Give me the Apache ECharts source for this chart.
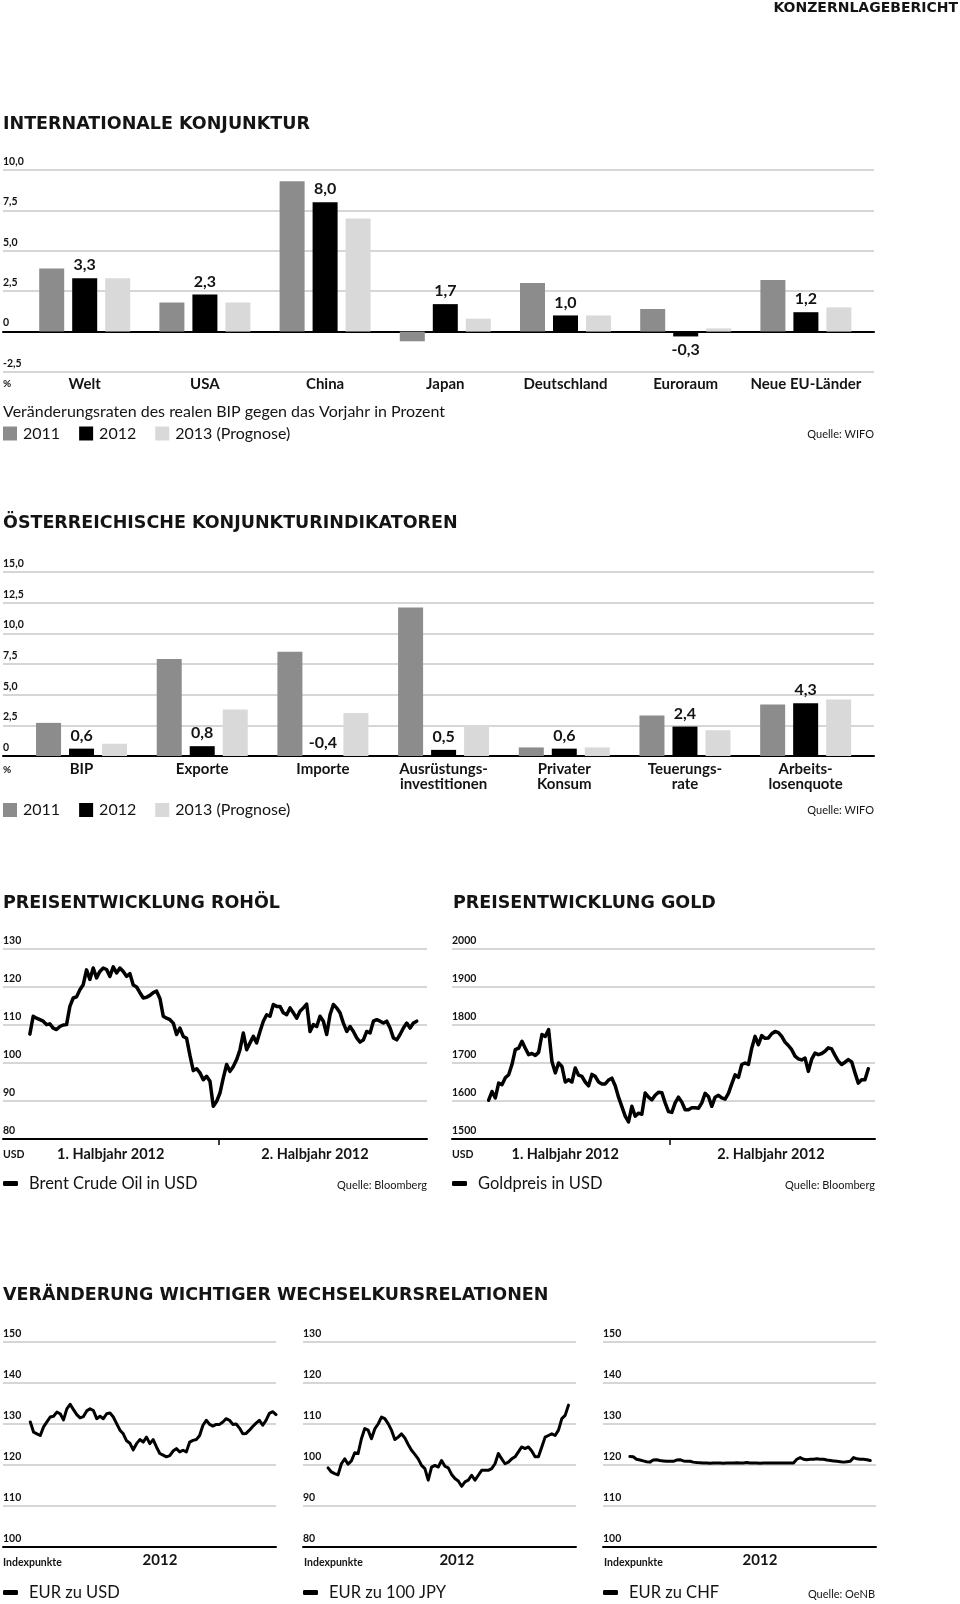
<!DOCTYPE html>
<html><head><meta charset="utf-8">
<script src="https://cdn.jsdelivr.net/npm/echarts@6/dist/echarts.min.js"></script>
<style>html,body{margin:0;padding:0;background:#fff}#c{width:960px;height:1604px}</style>
</head><body><div id="c"></div><script>
// ---------- DATA ----------
const seriesNames = ['2011', '2012', '2013 (Prognose)'];
const intlCategories = ['Welt', 'USA', 'China', 'Japan', 'Deutschland', 'Euroraum', 'Neue EU-Länder'];
const intl2011 = [3.9, 1.8, 9.3, -0.6, 3.0, 1.4, 3.2];
const intl2012 = [3.3, 2.3, 8.0, 1.7, 1.0, -0.3, 1.2];
const intl2013 = [3.3, 1.8, 7.0, 0.8, 1.0, 0.2, 1.5];

const atCategories = ['BIP', 'Exporte', 'Importe', 'Ausrüstungs-\ninvestitionen', 'Privater\nKonsum', 'Teuerungs-\nrate', 'Arbeits-\nlosenquote'];
const at2011 = [2.7, 7.9, 8.5, 12.1, 0.7, 3.3, 4.2];
const at2012 = [0.6, 0.8, -0.4, 0.5, 0.6, 2.4, 4.3];
const at2013 = [1.0, 3.8, 3.5, 2.5, 0.7, 2.1, 4.6];

const halfLabels = ['1. Halbjahr 2012', '2. Halbjahr 2012'];
const yearLabel = '2012';

// Brent, sampled evenly through 2012 (months from Jan 1)
const oilSpan = [0.76, 11.71];
const oilValues = [107.6,112.3,111.8,111.4,111,110.1,110.3,109.2,108.8,109.6,
 110,110.1,114.9,117.1,117.4,119.3,120.6,124.5,122,125,
 122.4,124.1,125,124.6,122.8,125.3,123.7,125,124.1,122.8,
 123.5,120.5,120,118.5,117.1,117.3,117.8,118.5,118.9,117,
 112.3,111.8,111.4,110.5,107.5,109.2,107,106.5,102,98,
 98.5,97.4,95.6,96.5,95.2,88.6,89.9,92.1,96.1,99.6,
 97.8,99.1,100.9,103.5,107.9,103.5,105.3,107,105.3,108.3,
 111,112.7,112.3,115.4,114.9,114.9,113.2,112.7,114.5,113.2,
 111.8,113.6,114.5,115.5,108.3,110.1,109.6,112.3,111,107.5,
 112.7,115.4,114.5,113.2,110.5,108.3,109.6,108.3,106.6,105.5,
 106.1,108.3,107.9,111,111.4,111,110.5,111,109.2,106.6,
 106.1,107.5,109.2,110.5,109.2,110.5,111];

const goldSpan = [1.04, 11.81];
const goldValues = [1602,1625,1608,1647,1643,1661,1669,1696,1735,1739,
 1757,1739,1722,1725,1720,1728,1775,1770,1788,1704,
 1674,1700,1691,1650,1656,1650,1687,1668,1665,1650,
 1640,1670,1665,1650,1645,1645,1655,1660,1640,1610,
 1585,1560,1545,1586,1560,1568,1565,1621,1610,1603,
 1615,1623,1622,1595,1572,1570,1595,1610,1597,1577,
 1577,1582,1582,1581,1595,1620,1612,1586,1610,1615,
 1608,1605,1620,1645,1669,1662,1696,1700,1696,1739,
 1770,1748,1772,1765,1766,1777,1783,1780,1770,1755,
 1746,1735,1718,1711,1708,1713,1678,1710,1726,1722,
 1725,1731,1740,1737,1720,1705,1696,1702,1709,1703,
 1674,1647,1656,1656,1685];

const usdSpan = [1.2, 12.0];
const usdValues = [130.5,128,127.6,127.2,129.3,130.5,131.7,131.9,132.9,132.5,
 131,133.7,134.8,133.5,132.3,131.5,131.8,133.2,133.7,133.3,
 131.3,131.9,131.3,132.5,132.7,131.7,130.1,128.5,127.6,125.9,
 125.3,123.7,125.2,126.2,125.6,126.8,125.2,126.2,124.4,122.8,
 122.4,122,122.3,123.4,124,123.2,123.6,123.2,125.6,126,
 126.2,127.2,129.7,130.9,129.9,129.5,129.9,129.9,130.5,131.3,
 130.9,129.9,130,129,127.6,127.7,128.5,129.4,130.2,130.9,
 129.7,130.9,132.6,133,132.3];

const jpySpan = [1.10, 11.67];
const jpyValues = [99.3,98.3,97.9,97.6,100.3,101.5,100.2,101,103,102.8,
 106.4,108.9,108.5,106.4,108.8,110,111.7,111.3,110.1,108.5,
 106.2,106.8,107.6,106.6,105,103.6,102.6,101.5,99.9,99.1,
 96.3,99.5,99.9,99.5,101.1,99.7,99.3,97.7,96.7,96.1,
 94.8,95.9,96.3,97.5,96.3,97.5,98.7,98.7,98.7,99.1,
 100.3,102.8,101.5,100.3,100.7,101.5,102,103.2,104.4,104,
 104.4,103.4,102,102,104.4,106.8,107.2,107.6,107.2,108.5,
 111.3,112.1,114.6];

const chfSpan = [1.18, 11.75];
const chfValues = [122.1,122,121.4,121.2,121,120.8,120.7,121.2,121.3,121.1,
 121,120.9,120.9,120.9,121.2,121.3,121,120.9,120.9,120.7,
 120.6,120.55,120.5,120.5,120.45,120.5,120.5,120.5,120.45,120.5,
 120.5,120.5,120.55,120.5,120.5,120.6,120.5,120.5,120.5,120.45,
 120.5,120.5,120.5,120.5,120.5,120.5,120.5,120.5,120.5,120.5,
 121.4,121.8,121.4,121.3,121.4,121.4,121.5,121.4,121.4,121.2,
 121.1,121,120.9,120.8,120.7,120.8,120.9,121.8,121.5,121.4,
 121.4,121.3,121.1];

// ---------- STYLE ----------
const FONT = 'Lato';
const HFONT = 'DejaVu Sans';
const INK = '#141414';
const C2011 = '#8c8c8c', C2012 = '#000000', C2013 = '#d9d9d9';
const GRIDLINE = '#c9c9c9';

const grids = [], xAxes = [], yAxes = [], series = [], legends = [], graphics = [];
const fmtComma = v => v === 0 ? '0' : (Math.round(v * 10) / 10).toFixed(1).replace('.', ',');

function addGrid(g) { grids.push(Object.assign({ containLabel: false, outerBoundsMode: 'none' }, g)); return grids.length - 1; }
function gridY(gridIndex, min, max, interval, fmt) {
  yAxes.push({ type: 'value', gridIndex, min, max, interval,
    axisLine: { show: false }, axisTick: { show: false },
    splitLine: { show: true, lineStyle: { color: GRIDLINE, width: 1.5 } },
    axisLabel: { inside: true, margin: 0, align: 'left', verticalAlign: 'bottom', padding: [0, 0, 3, 0],
      color: INK, fontFamily: FONT, fontWeight: 'bold', fontSize: 10.5, formatter: fmt } });
  return yAxes.length - 1;
}
function hiddenY(gridIndex, min, max) {
  yAxes.push({ type: 'value', gridIndex, min, max, show: false, splitLine: { show: false } });
  return yAxes.length - 1;
}
function txt(x, y, text, opt) {
  graphics.push({ type: 'text', x, y, silent: true, z: 100,
    style: Object.assign({ text, fontFamily: FONT, fontSize: 11, fontWeight: 'bold', fill: INK,
      align: 'left', verticalAlign: 'middle' }, opt || {}) });
}

// ---------- BAR PANELS ----------
function barPanel(cfg) {
  const gA = addGrid({ left: cfg.left, top: cfg.top, width: cfg.width, height: cfg.height });
  gridY(gA, cfg.min, cfg.max, 2.5, fmtComma);
  xAxes.push({ type: 'value', gridIndex: gA, min: 0, max: 1,
    axisLine: { show: true, onZero: true, lineStyle: { color: '#000', width: 2 } },
    axisTick: { show: false }, axisLabel: { show: false }, splitLine: { show: false } });
  const gB = addGrid({ left: cfg.barLeft, top: cfg.top, width: cfg.barWidth, height: cfg.height });
  const yB = hiddenY(gB, cfg.min, cfg.max);
  xAxes.push({ type: 'category', gridIndex: gB, data: cfg.categories,
    axisLine: { show: false, onZero: false }, axisTick: { show: false }, splitLine: { show: false },
    axisLabel: { interval: 0, margin: cfg.labelMargin, color: INK, fontFamily: FONT, fontWeight: 'bold',
      fontSize: 15, lineHeight: 15 } });
  const xB = xAxes.length - 1;
  const sets = [[cfg.d2011, C2011], [cfg.d2012, C2012], [cfg.d2013, C2013]];
  sets.forEach(([vals, col], i) => {
    const s = { type: 'bar', name: seriesNames[i], xAxisIndex: xB, yAxisIndex: yB,
      barWidth: 25, barGap: '32%', itemStyle: { color: col }, emphasis: { disabled: true },
      data: vals.map(v => (i === 1 && v < 0) ? { value: v, label: { position: cfg.negPos } } : v) };
    if (i === 1) {
      s.label = { show: true, position: 'top', distance: 5, formatter: p => fmtComma(p.value),
        color: INK, fontFamily: FONT, fontWeight: 'bold', fontSize: 16 };
    }
    series.push(s);
  });
}

barPanel({ left: 3, top: 170, width: 871, height: 202, barLeft: 24.6, barWidth: 841.4,
  min: -2.5, max: 10, categories: intlCategories, d2011: intl2011, d2012: intl2012, d2013: intl2013,
  negPos: 'bottom', labelMargin: 5 });
barPanel({ left: 3, top: 572, width: 871, height: 184, barLeft: 21.2, barWidth: 844.8,
  min: 0, max: 15, categories: atCategories, d2011: at2011, d2012: at2012, d2013: at2013,
  negPos: 'top', labelMargin: 6 });

function barLegend(top) {
  legends.push({ data: seriesNames, left: 3, top, padding: 0, itemWidth: 14, itemHeight: 14, itemGap: 19,
    icon: 'rect', selectedMode: false,
    textStyle: { fontFamily: FONT, fontSize: 16, color: INK, padding: [0, 0, 0, 1] } });
}
barLegend(425.5);
barLegend(802);

// ---------- LINE PANELS ----------
function spread(span, vals) {
  const n = vals.length;
  return vals.map((v, i) => [span[0] + (span[1] - span[0]) * i / (n - 1), v]);
}
function linePanel(cfg) {
  const g = addGrid({ left: cfg.left, top: cfg.top, width: cfg.width, height: cfg.height });
  const yi = gridY(g, cfg.min, cfg.max, cfg.interval, v => String(v));
  xAxes.push({ type: 'value', gridIndex: g, min: 0, max: 12,
    axisLine: { show: true, onZero: false, lineStyle: { color: '#000', width: 2 } },
    splitLine: { show: false },
    axisTick: cfg.tickAt ? { show: true, customValues: cfg.tickAt, length: 6, lineStyle: { color: '#000', width: 1.5 } } : { show: false },
    axisLabel: { show: true, customValues: cfg.labelAt, margin: cfg.labelMargin, color: INK, fontFamily: FONT,
      fontWeight: 'bold', fontSize: cfg.labelSize, formatter: v => cfg.labelText[cfg.labelAt.indexOf(v)] ?? '' } });
  const xi = xAxes.length - 1;
  series.push({ type: 'line', name: cfg.name, xAxisIndex: xi, yAxisIndex: yi, data: spread(cfg.span, cfg.values),
    showSymbol: false, symbol: 'none', color: '#000', itemStyle: { color: '#000' },
    lineStyle: { color: '#000', width: cfg.lw, join: 'round', cap: 'round' }, emphasis: { disabled: true } });
  legends.push({ data: [cfg.name], left: cfg.left, top: cfg.legendTop, padding: 0, icon: 'roundRect',
    itemWidth: 15, itemHeight: 5, selectedMode: false,
    textStyle: { fontFamily: FONT, fontSize: 16.5, color: INK, padding: [0, 0, 0, 6] } });
}

linePanel({ name: 'Brent Crude Oil in USD', left: 3, top: 949, width: 424, height: 190, min: 80, max: 130, interval: 10,
  span: oilSpan, values: oilValues, tickAt: [6.1], labelAt: [3.05, 8.83], labelText: halfLabels, labelMargin: 8, labelSize: 14.5,
  lw: 3.5, legendTop: 1175 });
linePanel({ name: 'Goldpreis in USD', left: 452, top: 949, width: 423, height: 190, min: 1500, max: 2000, interval: 100,
  span: goldSpan, values: goldValues, tickAt: [6.19], labelAt: [3.21, 9.05], labelText: halfLabels, labelMargin: 8, labelSize: 14.5,
  lw: 3.5, legendTop: 1175 });
linePanel({ name: 'EUR zu USD', left: 3, top: 1342, width: 273, height: 205, min: 100, max: 150, interval: 10,
  span: usdSpan, values: usdValues, tickAt: null, labelAt: [6.9], labelText: [yearLabel], labelMargin: 6, labelSize: 15,
  lw: 3, legendTop: 1584 });
linePanel({ name: 'EUR zu 100 JPY', left: 303, top: 1342, width: 273, height: 205, min: 80, max: 130, interval: 10,
  span: jpySpan, values: jpyValues, tickAt: null, labelAt: [6.76], labelText: [yearLabel], labelMargin: 6, labelSize: 15,
  lw: 3, legendTop: 1584 });
linePanel({ name: 'EUR zu CHF', left: 603, top: 1342, width: 273, height: 205, min: 100, max: 150, interval: 10,
  span: chfSpan, values: chfValues, tickAt: null, labelAt: [6.9], labelText: [yearLabel], labelMargin: 6, labelSize: 15,
  lw: 3, legendTop: 1584 });

// ---------- TEXTS ----------
txt(958, 8, 'KONZERNLAGEBERICHT', { align: 'right', fontSize: 14, fontFamily: HFONT });
const H = { fontSize: 17.5, fontFamily: HFONT };
txt(3, 124, 'INTERNATIONALE KONJUNKTUR', H);
txt(3, 523, 'ÖSTERREICHISCHE KONJUNKTURINDIKATOREN', H);
txt(3, 903, 'PREISENTWICKLUNG ROHÖL', H);
txt(453, 903, 'PREISENTWICKLUNG GOLD', H);
txt(3, 1295, 'VERÄNDERUNG WICHTIGER WECHSELKURSRELATIONEN', H);
txt(3, 384, '%', { fontSize: 10 });
txt(3, 770, '%', { fontSize: 10 });
txt(3, 412, 'Veränderungsraten des realen BIP gegen das Vorjahr in Prozent', { fontSize: 16, fontWeight: 'normal' });
const Q = { align: 'right', fontSize: 11, fontWeight: 'normal' };
txt(874, 434, 'Quelle: WIFO', Q);
txt(874, 810, 'Quelle: WIFO', Q);
txt(427, 1185, 'Quelle: Bloomberg', Q);
txt(875, 1185, 'Quelle: Bloomberg', Q);
txt(875, 1594, 'Quelle: OeNB', Q);
txt(3, 1155, 'USD', { fontSize: 10.5 });
txt(452, 1155, 'USD', { fontSize: 10.5 });
txt(3, 1563, 'Indexpunkte', { fontSize: 10.5 });
txt(304, 1563, 'Indexpunkte', { fontSize: 10.5 });
txt(604, 1563, 'Indexpunkte', { fontSize: 10.5 });

const chart = echarts.init(document.getElementById('c'), null, { renderer: 'canvas' });
chart.setOption({
  animation: false, backgroundColor: '#ffffff',
  textStyle: { fontFamily: FONT },
  grid: grids, xAxis: xAxes, yAxis: yAxes, series, legend: legends, graphic: graphics,
  tooltip: { show: false }
});
</script></body></html>
